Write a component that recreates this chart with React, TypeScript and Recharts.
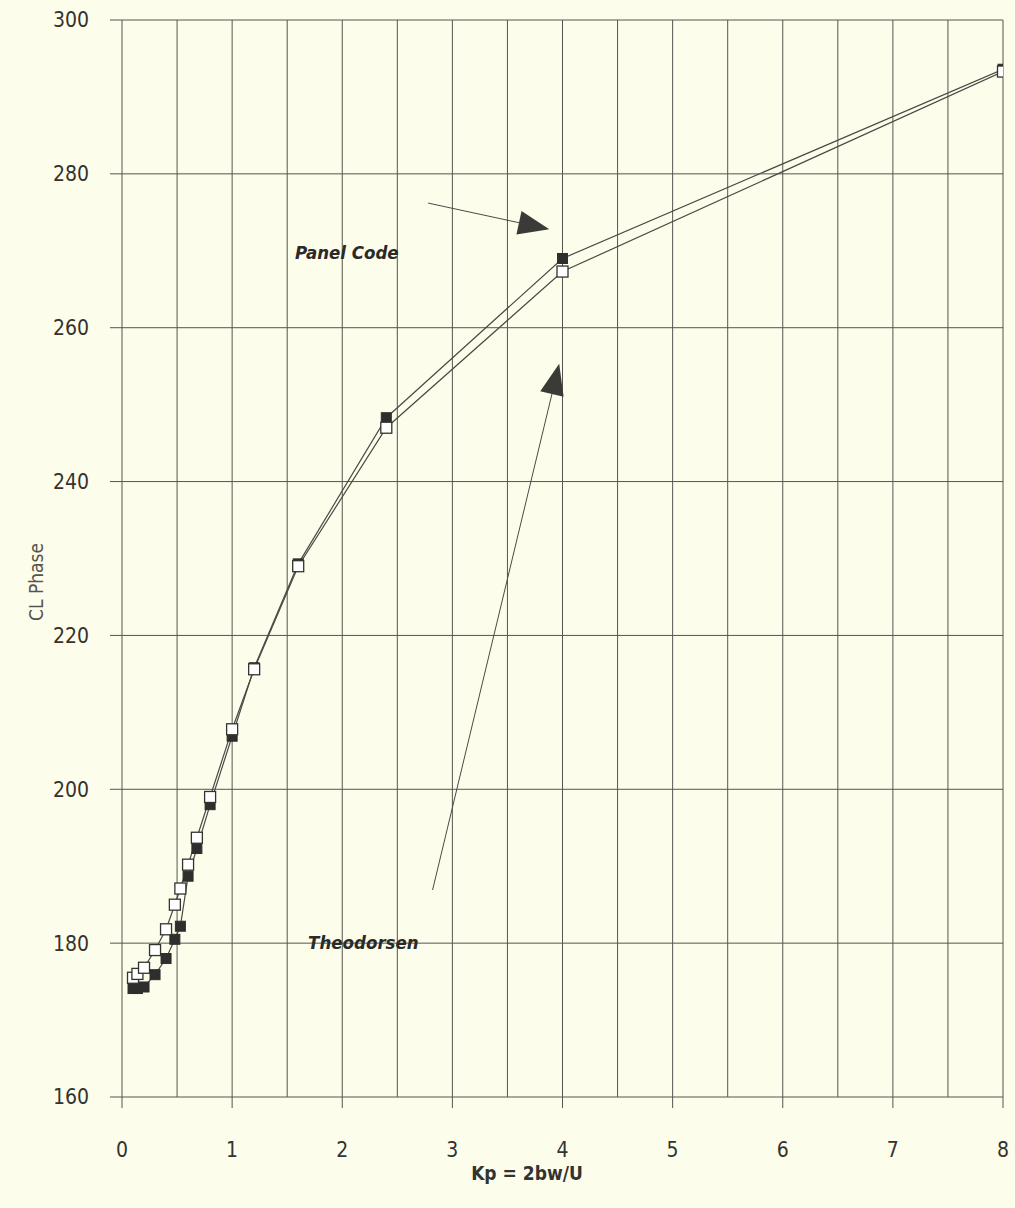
import React from 'react';
import { LineChart, Line, XAxis, YAxis, CartesianGrid, ReferenceLine, ReferenceDot, Label } from 'recharts';

const kp = [0.1, 0.14, 0.2, 0.3, 0.4, 0.48, 0.53, 0.6, 0.68, 0.8, 1.0, 1.2, 1.6, 2.4, 4, 8];
const theodorsen = [175.5, 176.0, 176.8, 179.1, 181.8, 185.0, 187.1, 190.2, 193.7, 199.0, 207.8, 215.6, 229.0, 247.0, 267.3, 293.3];
const panelCode = [174.1, 174.1, 174.3, 175.9, 178.0, 180.5, 182.2, 188.7, 192.3, 198.0, 206.9, 215.8, 229.3, 248.3, 269.0, 293.6];

const xTicks = [0, 1, 2, 3, 4, 5, 6, 7, 8];
const xHalfGrid = [0.5, 1.5, 2.5, 3.5, 4.5, 5.5, 6.5, 7.5];
const yTicks = [160, 180, 200, 220, 240, 260, 280, 300];

const panelArrow = [{ x: 2.78, y: 276.2 }, { x: 3.88, y: 272.8 }];
const theoArrow = [{ x: 2.82, y: 186.9 }, { x: 3.97, y: 255.3 }];
const panelLabelPos = { x: 1.57, y: 269.8, text: 'Panel Code' };
const theoLabelPos = { x: 1.69, y: 180.1, text: 'Theodorsen' };

const data = kp.map((k, i) => ({ kp: k, theo: theodorsen[i], panel: panelCode[i] }));

const BG = '#fdfdec';
const GRID = '#55554f';
const INK = '#333330';
const FONT = '"DejaVu Sans Condensed", "DejaVu Sans", sans-serif';

const OpenSquare = (props: any) => {
  const { cx, cy, index } = props;
  if (cx == null || cy == null) return <g key={`o${index}`} />;
  return <rect key={`o${index}`} x={cx - 5.5} y={cy - 5.5} width={11} height={11} fill="#ffffff" stroke={INK} strokeWidth={1.3} />;
};
const FilledSquare = (props: any) => {
  const { cx, cy, index } = props;
  if (cx == null || cy == null) return <g key={`f${index}`} />;
  return <rect key={`f${index}`} x={cx - 5} y={cy - 5} width={10} height={10} fill="#2e2e2c" stroke="#2e2e2c" strokeWidth={1} />;
};

const Arrow = (props: any) => {
  const { x1, y1, x2, y2 } = props;
  if ([x1, y1, x2, y2].some((v) => v == null || isNaN(v))) return <g />;
  const dx = x2 - x1;
  const dy = y2 - y1;
  const len = Math.sqrt(dx * dx + dy * dy) || 1;
  const ux = dx / len;
  const uy = dy / len;
  const hl = 31;
  const hw = 12;
  const bx = x2 - ux * hl;
  const by = y2 - uy * hl;
  const pts = `${x2},${y2} ${bx - uy * hw},${by + ux * hw} ${bx + uy * hw},${by - ux * hw}`;
  return (
    <g>
      <line x1={x1} y1={y1} x2={bx} y2={by} stroke="#4a4a46" strokeWidth={1} />
      <polygon points={pts} fill="#3a3a37" />
    </g>
  );
};

const makeTextShape = (text: string) => (props: any) => {
  const { cx, cy } = props;
  if (cx == null || cy == null) return <g />;
  return (
    <text x={cx} y={cy} dominantBaseline="central" fontFamily={FONT} fontStretch="condensed" fontStyle="italic" fontWeight="bold" fontSize={18.5} fill="#2a2a28">
      {text}
    </text>
  );
};

export default function App() {
  return (
    <div style={{ position: 'absolute', left: 0, top: 0, width: 1015, height: 1208, background: BG }}>
      <LineChart
        width={1015}
        height={1208}
        data={data}
        margin={{ top: 20, right: 12, bottom: 0, left: 0 }}
      >
        <CartesianGrid stroke={GRID} strokeWidth={1} fill="none" />
        <XAxis
          dataKey="kp"
          type="number"
          domain={[0, 8]}
          ticks={xTicks}
          interval={0}
          height={111}
          axisLine={false}
          tickLine={{ stroke: GRID }}
          tickSize={11}
          tickMargin={34}
          tick={{ fill: INK, fontSize: 21, fontFamily: FONT, fontStretch: 'condensed' }}
          allowDataOverflow
        >
          <Label
            content={() => (
              <text x={527} y={1173} textAnchor="middle" dominantBaseline="central" fontFamily={FONT} fontStretch="condensed" fontWeight="bold" fontSize={19} fill={INK}>
                Kp = 2bw/U
              </text>
            )}
          />
        </XAxis>
        <YAxis
          type="number"
          domain={[160, 300]}
          ticks={yTicks}
          interval={0}
          width={122}
          axisLine={false}
          tickLine={{ stroke: GRID }}
          tickSize={12}
          tickMargin={21}
          tick={{ fill: INK, fontSize: 21, fontFamily: FONT, fontStretch: 'condensed' }}
          allowDataOverflow
        >
          <Label
            content={() => (
              <text transform="translate(36,582) rotate(-90)" textAnchor="middle" dominantBaseline="central" fontFamily={FONT} fontStretch="condensed" fontSize={19} fill="#55554f">
                CL Phase
              </text>
            )}
          />
        </YAxis>
        {xHalfGrid.map((v) => (
          <ReferenceLine key={`h${v}`} x={v} stroke={GRID} strokeWidth={1} />
        ))}
        <ReferenceLine segment={panelArrow} shape={Arrow} ifOverflow="visible" />
        <ReferenceLine segment={theoArrow} shape={Arrow} ifOverflow="visible" />
        <ReferenceDot x={panelLabelPos.x} y={panelLabelPos.y} r={0} shape={makeTextShape(panelLabelPos.text)} ifOverflow="visible" />
        <ReferenceDot x={theoLabelPos.x} y={theoLabelPos.y} r={0} shape={makeTextShape(theoLabelPos.text)} ifOverflow="visible" />
        <Line
          dataKey="panel"
          stroke="#4a4a46"
          strokeWidth={1.2}
          dot={FilledSquare}
          activeDot={false}
          isAnimationActive={false}
        />
        <Line
          dataKey="theo"
          stroke="#4a4a46"
          strokeWidth={1.2}
          dot={OpenSquare}
          activeDot={false}
          isAnimationActive={false}
        />
      </LineChart>
    </div>
  );
}
